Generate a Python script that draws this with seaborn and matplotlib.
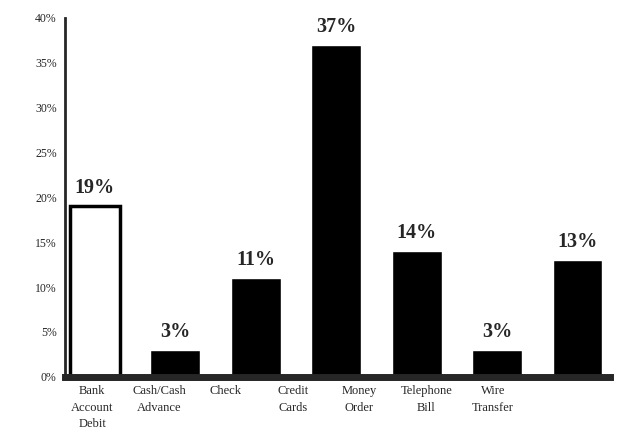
import numpy as np
import pandas as pd
import matplotlib
matplotlib.use("Agg")
import matplotlib.pyplot as plt
import seaborn as sns

# ── data ──────────────────────────────────────────────
categories = [
    "Bank\nAccount\nDebit",
    "Cash/Cash\nAdvance",
    "Check",
    "Credit\nCards",
    "Money\nOrder",
    "Telephone\nBill",
    "Wire\nTransfer",
]
shares = [19, 3, 11, 37, 14, 3, 13]
y_ticks = [0, 5, 10, 15, 20, 25, 30, 35, 40]

df = pd.DataFrame({"method": categories, "share": shares})

# ── plot ──────────────────────────────────────────────
sns.set_style("white")
plt.rcParams["font.family"] = ["Liberation Serif", "DejaVu Serif"]

fig = plt.figure(figsize=(6.19, 4.46), dpi=100)
ax = fig.add_axes([0.105, 0.155, 0.88, 0.805])

sns.barplot(data=df, x="method", y="share", color="black", width=0.62,
            saturation=1, ax=ax)

# first bar is washed out in the scan: outline only
first = ax.patches[0]
first.set_facecolor("white")
first.set_edgecolor("black")
first.set_linewidth(2.5)

for p, v in zip(ax.patches, shares):
    ax.text(p.get_x() + p.get_width() / 2, v + 0.9, f"{v}%",
            ha="center", va="bottom", fontsize=14.5, fontweight="bold")

ax.set_ylim(0, 40)
ax.set_xlim(-0.37, 6.4)
ax.set_yticks(y_ticks)
ax.set_yticklabels([f"{t}%" for t in y_ticks], fontsize=8.5)
# labels sit a little left of their bars in the original
ax.set_xticks(np.arange(len(categories)) * 0.83 - 0.03)
ax.set_xticklabels(categories, fontsize=9, linespacing=1.5)
ax.tick_params(axis="y", direction="out", length=4, width=1.2, pad=2)
ax.tick_params(axis="x", length=0, pad=6)
ax.set_xlabel("")
ax.set_ylabel("")

sns.despine(ax=ax, top=True, right=True)
ax.spines["left"].set_linewidth(2)
ax.spines["bottom"].set_linewidth(5)

fig.savefig("out.png", dpi=100)
